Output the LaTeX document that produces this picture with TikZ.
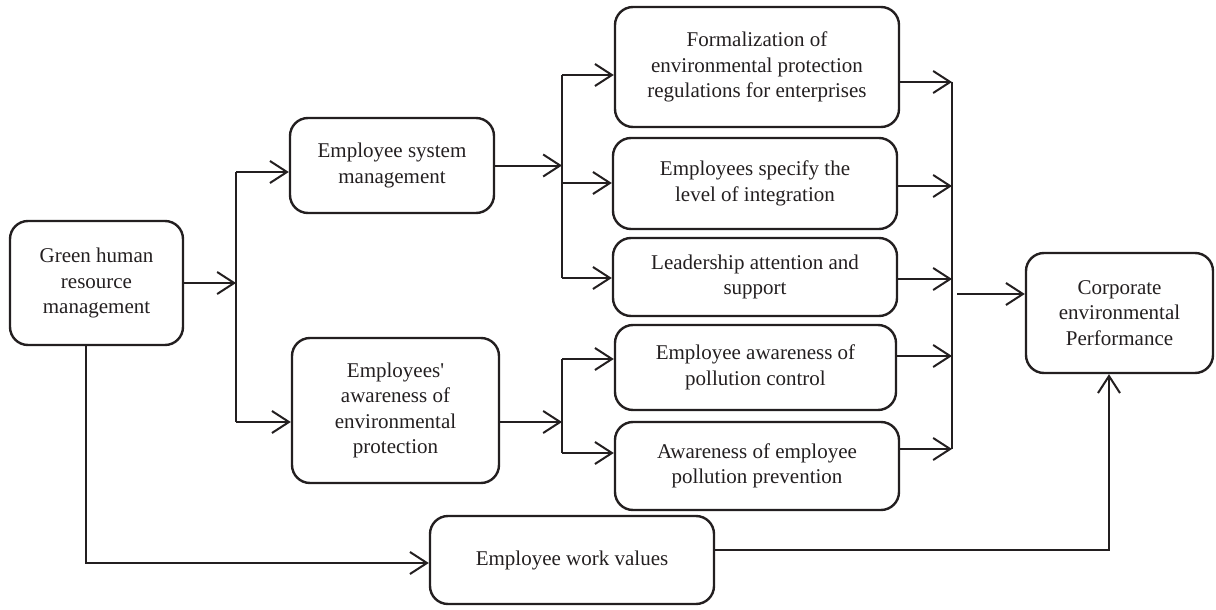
\documentclass[tikz,border=0pt]{standalone}
\usepackage{fontspec}
\setmainfont{Liberation Serif}[Ligatures=TeXOff]
\usetikzlibrary{arrows.meta}
\definecolor{ink}{HTML}{231F20}
\begin{document}
\begin{tikzpicture}[x=1pt,y=-1pt,
  box/.style={draw=ink,line width=2.4pt,rounded corners=18pt,align=center,
    text=ink,inner sep=0pt,
    font=\fontsize{21}{25.5}\selectfont},
  arr/.style={draw=ink,line width=2pt,-{Straight Barb[length=17pt,width=22pt,line width=2pt]}},
  ln/.style={draw=ink,line width=2pt}]
\useasboundingbox (0,0) rectangle (1216,610);

% boxes
\node[box,minimum width=173pt,minimum height=124pt] (green) at (96.5,283) {Green human\\resource\\management};
\node[box,minimum width=204pt,minimum height=95pt] (esm) at (392,165.5) {Employee system\\management};
\node[box,minimum width=207pt,minimum height=145pt] (epa) at (395.5,410.5) {Employees'\\awareness of\\environmental\\protection};
\node[box,minimum width=284pt,minimum height=120pt] (form) at (757,67) {Formalization of\\environmental protection\\regulations for enterprises};
\node[box,minimum width=284pt,minimum height=91pt] (spec) at (755,183.5) {Employees specify the\\level of integration};
\node[box,minimum width=284pt,minimum height=78pt] (lead) at (755,277) {Leadership attention and\\support};
\node[box,minimum width=281pt,minimum height=85pt] (ctrl) at (755.5,367.5) {Employee awareness of\\pollution control};
\node[box,minimum width=284pt,minimum height=88pt] (prev) at (757,466) {Awareness of employee\\pollution prevention};
\node[box,minimum width=187pt,minimum height=120pt] (corp) at (1119.5,313) {Corporate\\environmental\\Performance};
\node[box,minimum width=284pt,minimum height=88pt] (wv) at (572,560) {Employee work values};

% bus points
\coordinate (b1top) at (236,172);
\coordinate (b1bot) at (236,422);
\coordinate (b2top) at (562,75);
\coordinate (b2mid) at (562,183);
\coordinate (b2bot) at (562,278);
\coordinate (b3top) at (562,359);
\coordinate (b3mid) at (562,422);
\coordinate (b3bot) at (562,453);
\coordinate (r1) at (952,82);
\coordinate (r2) at (952,186);
\coordinate (r3) at (952,279);
\coordinate (r4) at (952,356);
\coordinate (r5) at (952,449);
\coordinate (rc) at (957,294);
\coordinate (gturn) at (86,563);
\coordinate (wturn) at (1109,550);

% first split
\draw[arr] (green.east) -- (green.east -| b1top);
\draw[ln] (b1top) -- (b1bot);
\draw[arr] (b1top) -- (b1top -| esm.west);
\draw[arr] (b1bot) -- (b1bot -| epa.west);

% system management branch
\draw[arr] (esm.east) -- (esm.east -| b2top);
\draw[ln] (b2top) -- (b2bot);
\draw[arr] (b2top) -- (b2top -| form.west);
\draw[arr] (b2mid) -- (b2mid -| spec.west);
\draw[arr] (b2bot) -- (b2bot -| lead.west);

% awareness branch
\draw[arr,line width=2.6pt] (epa.east |- b3mid) -- (b3mid);
\draw[ln] (b3top) -- (b3bot);
\draw[arr] (b3top) -- (b3top -| ctrl.west);
\draw[arr] (b3bot) -- (b3bot -| prev.west);

% collecting bus
\draw[ln] (r1) -- (r5);
\draw[arr] (form.east |- r1) -- (r1);
\draw[arr] (spec.east |- r2) -- (r2);
\draw[arr] (lead.east |- r3) -- (r3);
\draw[arr] (ctrl.east |- r4) -- (r4);
\draw[arr] (prev.east |- r5) -- (r5);
\draw[arr] (rc) -- (rc -| corp.west);

% work values path
\draw[arr,line width=2.6pt] (green.south -| gturn) -- (gturn) -- (gturn -| wv.west);
\draw[arr] (wv.east |- wturn) -- (wturn) -- (wturn |- corp.south);
\end{tikzpicture}
\end{document}
